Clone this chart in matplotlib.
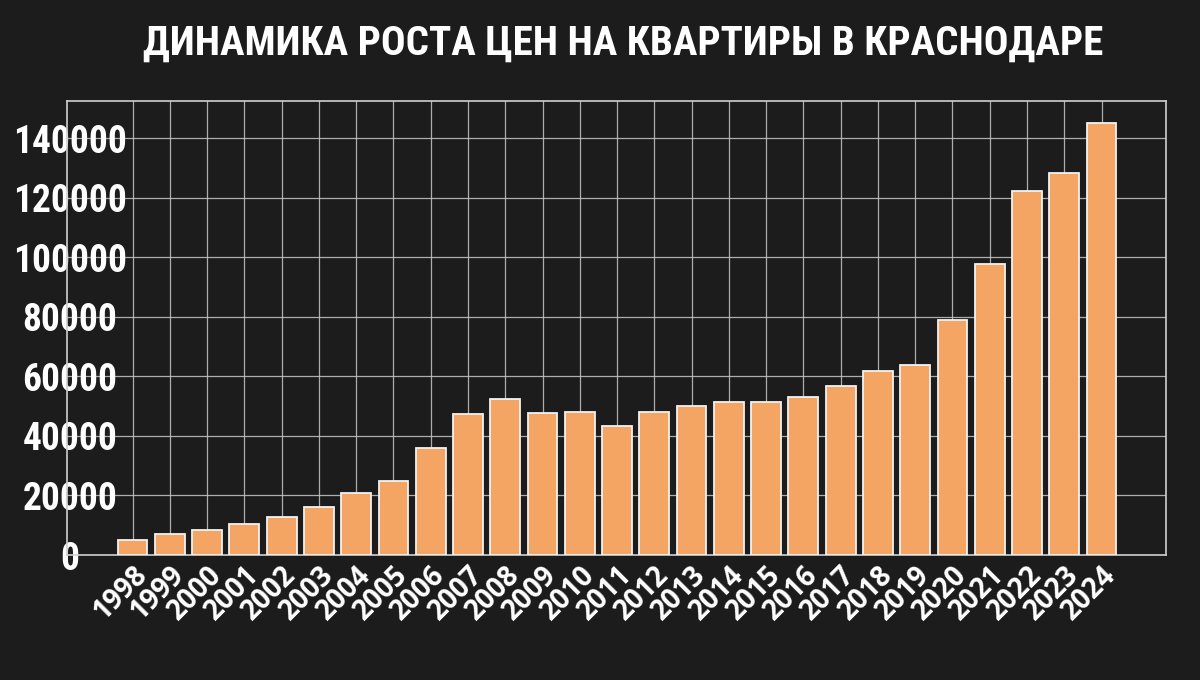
import matplotlib
matplotlib.use("Agg")
import matplotlib.pyplot as plt
from matplotlib.ticker import FixedLocator

years = [str(y) for y in range(1998, 2025)]
prices = [5000, 7000, 8500, 10500, 12800, 16200, 20700, 25000, 36000, 47400,
          52300, 47600, 47950, 43450, 47950, 50000, 51500, 51300, 53200, 56800,
          61700, 63800, 78850, 97900, 122200, 128300, 145100]
yticks = [0, 20000, 40000, 60000, 80000, 100000, 120000, 140000]
title = "ДИНАМИКА РОСТА ЦЕН НА КВАРТИРЫ В КРАСНОДАРЕ"

BG = "#1c1c1c"
BAR = "#f4a564"
GRID = "#c8c8c8"
narrow = ["Liberation Sans Narrow", "Roboto Condensed", "DejaVu Sans"]

fig = plt.figure(figsize=(12, 6.8), dpi=100, facecolor=BG)
ax = fig.add_axes([67/1200, 125/680, (1166-67)/1200, (555-101)/680])
ax.set_facecolor(BG)

x = list(range(len(years)))
ax.bar(x, prices, width=0.8, color=BAR, edgecolor="#f2f2f2", linewidth=1.3, zorder=3)

ax.set_xlim(-1.76, len(years) - 1 + 1.73)
ax.set_ylim(0, 152500)
ax.xaxis.set_major_locator(FixedLocator(x))
ax.set_xticklabels(years)
ax.yaxis.set_major_locator(FixedLocator(yticks))
ax.set_yticklabels([str(v) for v in yticks])

ax.grid(True, color=GRID, linewidth=0.9, alpha=0.85, zorder=0)
ax.set_axisbelow(True)
for s in ax.spines.values():
    s.set_color("#d0d0d0")
    s.set_linewidth(1.2)

ax.tick_params(axis="both", length=0)
ax.tick_params(axis="y", pad=-2)
ax.tick_params(axis="x", pad=4)
for lab in ax.get_yticklabels():
    lab.set_family(narrow)
    lab.set_fontweight("bold")
    lab.set_fontsize(27)
    lab.set_color("white")
    lab.set_ha("center")
    lab.set_zorder(5)
for lab in ax.get_xticklabels():
    lab.set_family(["Open Sans", "DejaVu Sans"])
    lab.set_fontweight("bold")
    lab.set_fontsize(20)
    lab.set_color("white")
    lab.set_rotation(45)
    lab.set_ha("right")
    lab.set_va("top")
    lab.set_rotation_mode("anchor")

fig.text(623/1200, 1 - 44/680, title, ha="center", va="center", color="white",
         fontsize=29.5, fontweight="bold", family=narrow)

fig.savefig("out.png", dpi=100, facecolor=BG)
